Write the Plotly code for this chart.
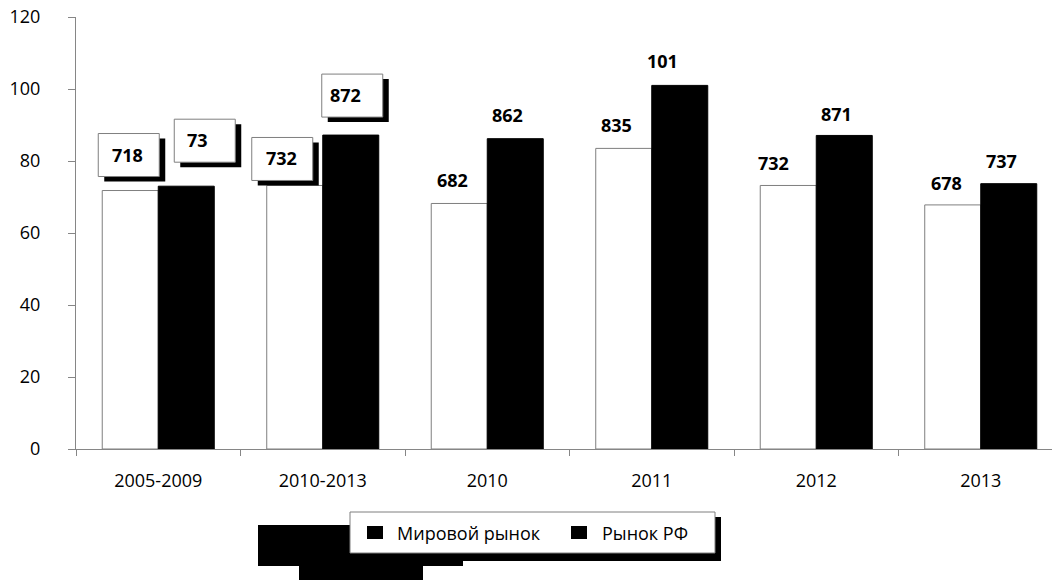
import plotly.graph_objects as go

# ---- data ----
categories = ["2005-2009", "2010-2013", "2010", "2011", "2012", "2013"]
world_values = [71.8, 73.2, 68.2, 83.5, 73.2, 67.8]
rf_values = [73.0, 87.2, 86.2, 101.0, 87.1, 73.7]
world_labels = ["718", "732", "682", "835", "732", "678"]
rf_labels = ["73", "872", "862", "101", "871", "737"]
series_names = ["Мировой рынок", "Рынок РФ"]
y_ticks = [0, 20, 40, 60, 80, 100, 120]

# ---- label placement styles (pixel offsets from category centre / bar top) ----
world_dx = [-31, -41, -35, -35, -43, -34]
world_dy = [36, 27, 23, 23, 22, 22]
rf_dx = [39, 23, 20, 11, 20, 21]
rf_dy = [46, 40, 24, 24, 21, 23]
world_boxed = [True, True, False, False, False, False]
rf_boxed = [True, True, False, False, False, False]
world_box_shift = [1, 0, 0, 0, 0, 0]
rf_box_shift = [7, 6, 0, 0, 0, 0]

FONT = "Open Sans"
AXIS_GRAY = "#868686"

fig = go.Figure()
fig.add_trace(go.Bar(
    x=categories, y=world_values, name=series_names[0],
    marker=dict(color="white", line=dict(color="#7f7f7f", width=1)),
    showlegend=False, hoverinfo="x+y",
))
fig.add_trace(go.Bar(
    x=categories, y=rf_values, name=series_names[1],
    marker=dict(color="black", line=dict(color="black", width=1)),
    showlegend=False, hoverinfo="x+y",
))

annotations = []
shapes = []


def add_labels(values, labels, dxs, dys, boxed, box_shift):
    for i, (v, lab, dx, dy, bx, bs) in enumerate(zip(values, labels, dxs, dys, boxed, box_shift)):
        if bx:
            cx = dx + bs
            # shadow
            shapes.append(dict(
                type="rect", xref="x", yref="y", xsizemode="pixel", ysizemode="pixel",
                xanchor=i, yanchor=v,
                x0=cx - 30 + 6, x1=cx + 31 + 6, y0=dy - 22 - 5, y1=dy + 21 - 5,
                fillcolor="black", line=dict(width=0), layer="above",
            ))
            shapes.append(dict(
                type="rect", xref="x", yref="y", xsizemode="pixel", ysizemode="pixel",
                xanchor=i, yanchor=v,
                x0=cx - 30, x1=cx + 31, y0=dy - 22, y1=dy + 21,
                fillcolor="white", line=dict(color="#7f7f7f", width=1), layer="above",
            ))
        annotations.append(dict(
            x=i, y=v, xref="x", yref="y", text=lab, showarrow=False,
            xshift=dx, yshift=dy, xanchor="center", yanchor="middle",
            font=dict(family=FONT, size=18, color="black", weight="bold"),
        ))


add_labels(world_values, world_labels, world_dx, world_dy, world_boxed, world_box_shift)
add_labels(rf_values, rf_labels, rf_dx, rf_dy, rf_boxed, rf_box_shift)

# ---- legend (drawn as a framed box with a shadow) and decorative black blocks ----
L, T, B, R = 76, 17, 449, 1052
W, H = R - L, B - T


def px2paper(x, y):
    return (x - L) / W, (B - y) / H


def paper_rect(x0, y0, x1, y1, **kw):
    a = px2paper(x0, y1)
    b = px2paper(x1, y0)
    d = dict(type="rect", xref="paper", yref="paper",
             x0=a[0], y0=a[1], x1=b[0], y1=b[1], layer="above")
    d.update(kw)
    return d


for (x0, y0, x1, y1) in [(258, 525, 463, 566), (299, 566, 423, 585), (355, 517, 721, 561)]:
    shapes.append(paper_rect(x0, y0, x1, y1, fillcolor="black", line=dict(width=0)))
shapes.append(paper_rect(350, 512, 715, 553, fillcolor="white",
                         line=dict(color="#7f7f7f", width=1)))
legend_items = [(367, 395), (571, 600)]
for (sq_x, txt_x), nm in zip(legend_items, series_names):
    shapes.append(paper_rect(sq_x, 526, sq_x + 16, 539, fillcolor="black", line=dict(width=0)))
    px, py = px2paper(txt_x, 533)
    annotations.append(dict(
        x=px, y=py, xref="paper", yref="paper", text=nm, showarrow=False,
        xanchor="left", yanchor="middle",
        font=dict(family=FONT, size=18, color="black"),
    ))

fig.update_layout(
    width=1052, height=580,
    margin=dict(l=L, r=1052 - R, t=T, b=580 - B, autoexpand=False),
    paper_bgcolor="white", plot_bgcolor="white",
    barmode="group", bargap=0.319, bargroupgap=0,
    font=dict(family=FONT, size=18, color="black"),
    showlegend=False,
    annotations=annotations,
    shapes=shapes,
    xaxis=dict(
        type="category", range=[-0.5, -0.5 + W / 164.5],
        showline=True, linecolor=AXIS_GRAY, linewidth=1,
        ticks="outside", tickson="boundaries", ticklen=6, tickcolor=AXIS_GRAY,
        showgrid=False, zeroline=False,
        tickfont=dict(family=FONT, size=18, color="black"),
        ticklabelstandoff=15,
    ),
    yaxis=dict(
        range=[0, 120], tickvals=y_ticks,
        showline=True, linecolor=AXIS_GRAY, linewidth=1,
        ticks="outside", ticklen=7, tickcolor=AXIS_GRAY,
        showgrid=False, zeroline=False,
        tickfont=dict(family=FONT, size=18, color="black"),
        ticklabelstandoff=24,
    ),
)

fig.write_html("out.html")
